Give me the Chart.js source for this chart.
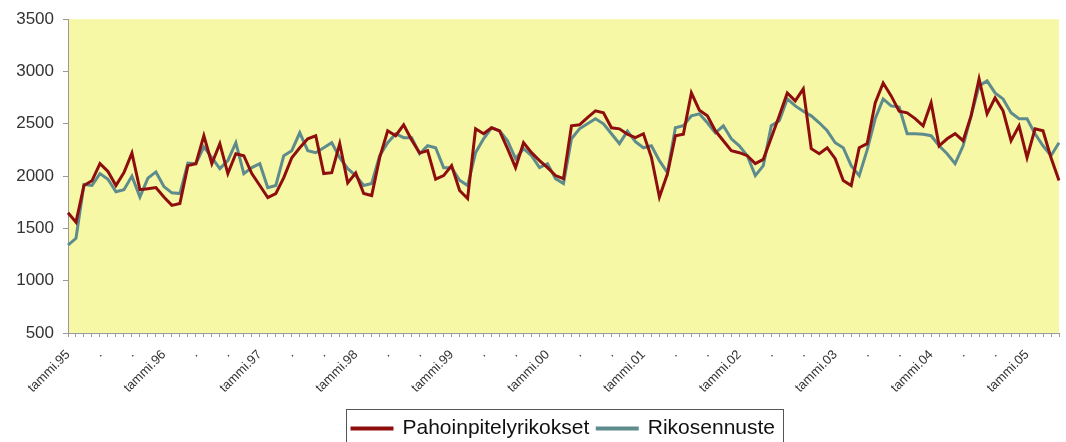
<!DOCTYPE html>
<html>
<head>
<meta charset="utf-8">
<script src="https://cdn.jsdelivr.net/npm/chart.js@4.4.1/dist/chart.umd.min.js"></script>
<style>
  html, body { margin: 0; padding: 0; background: #fff; }
  #wrap { width: 1066px; height: 442px; }
</style>
</head>
<body>
<div id="wrap"><canvas id="diagram1"></canvas></div>
<script>
(
    async function () {
        const monthNames = ["tammi", "helmi", "maalis", "huhti", "touko", "kesä",
                            "heinä", "elo", "syys", "loka", "marras", "joulu"];
        const years = ["95", "96", "97", "98", "99", "00", "01", "02", "03", "04", "05"];

        // tammi.95 ... touko.05
        const categories = [];
        for (const y of years) {
            for (const m of monthNames) categories.push(m + "." + y);
        }
        categories.length = 125;

        // only January is written out, May and September get a dot
        const tickLabels = categories.map((c, i) => {
            if (i % 12 === 0) return c;
            if (i % 4 === 0 && i < categories.length - 1) return ".";
            return "";
        });

        const assaults = [
            1650, 1560, 1910, 1955, 2119, 2045, 1910, 2033, 2220, 1870, 1880, 1890,
            1800, 1720, 1738, 2100, 2119, 2386, 2119, 2310, 2024, 2214, 2195, 2024,
            1910, 1795, 1833, 1986, 2176, 2271, 2357, 2386, 2024, 2033, 2310, 1935,
            2030, 1833, 1814, 2176, 2433, 2386, 2490, 2345, 2220, 2243, 1970, 2005,
            2100, 1862, 1786, 2452, 2405, 2462, 2433, 2262, 2081, 2319, 2224, 2148,
            2081, 2005, 1976, 2481, 2490, 2560, 2624, 2605, 2462, 2452, 2400, 2367,
            2405, 2180, 1800, 2020, 2386, 2400, 2795, 2630, 2576, 2433, 2338, 2243,
            2224, 2195, 2119, 2160, 2367, 2576, 2795, 2719, 2833, 2262, 2214, 2271,
            2167, 1957, 1910, 2271, 2310, 2700, 2890, 2767, 2620, 2605, 2550, 2481,
            2700, 2290, 2357, 2405, 2338, 2576, 2929, 2595, 2748, 2624, 2338, 2481,
            2176, 2452, 2433, 2176, 1957
        ];

        const forecast = [
            1340, 1405, 1920, 1910, 2024, 1970, 1850, 1870, 2000, 1800, 1980, 2040,
            1900, 1840, 1833, 2125, 2119, 2280, 2176, 2071, 2148, 2319, 2024, 2081,
            2119, 1890, 1910, 2195, 2243, 2414, 2243, 2224, 2271, 2319, 2176, 2071,
            2005, 1910, 1929, 2195, 2319, 2405, 2367, 2367, 2214, 2290, 2271, 2081,
            2081, 1960, 1910, 2224, 2357, 2462, 2433, 2338, 2167, 2262, 2195, 2081,
            2119, 1976, 1929, 2357, 2452, 2500, 2548, 2500, 2405, 2310, 2430, 2330,
            2271, 2290, 2148, 2033, 2462, 2481, 2576, 2595, 2510, 2414, 2481, 2357,
            2290, 2195, 2005, 2100, 2481, 2529, 2738, 2671, 2620, 2576, 2510, 2433,
            2319, 2271, 2100, 2005, 2250, 2548, 2738, 2671, 2660, 2405, 2405, 2400,
            2386, 2290, 2214, 2119, 2290, 2576, 2862, 2910, 2795, 2738, 2605, 2548,
            2548, 2405, 2290, 2195, 2319
        ];

        const plotBackground = {
            id: 'plotBackground',
            beforeDraw(chart) {
                const {ctx, chartArea: a} = chart;
                ctx.save();
                ctx.fillStyle = '#F7F8A6';
                ctx.fillRect(a.left, a.top, a.right - a.left, a.bottom - a.top);
                ctx.restore();
            }
        };

        // push the legend down a bit and draw the frame round it, cut by the page bottom
        const legendFrame = {
            id: 'legendFrame',
            afterLayout(chart) {
                chart.legend.top += 7;
                chart.legend.bottom += 7;
            },
            afterDraw(chart) {
                const lg = chart.legend;
                if (!lg || !lg.legendHitBoxes.length) return;
                const boxes = lg.legendHitBoxes;
                const left = Math.min(...boxes.map(b => b.left)) - 6;
                const right = Math.max(...boxes.map(b => b.left + b.width)) + 8;
                const ctx = chart.ctx;
                ctx.save();
                ctx.strokeStyle = '#555';
                ctx.lineWidth = 1;
                ctx.strokeRect(Math.round(left) + 0.5, Math.round(lg.top) - 0.5, right - left, 60);
                ctx.restore();
            }
        };

        new Chart(
            document.getElementById("diagram1"),
            {
                type: 'line',
                data: {
                    labels: categories,
                    datasets: [
                        {
                            label: 'Pahoinpitelyrikokset',
                            data: assaults,
                            borderColor: '#8E0E0E',
                            backgroundColor: '#8E0E0E',
                            borderWidth: 3,
                            pointRadius: 0,
                            tension: 0
                        },
                        {
                            label: 'Rikosennuste',
                            data: forecast,
                            borderColor: '#5E8C8C',
                            backgroundColor: '#5E8C8C',
                            borderWidth: 3,
                            pointRadius: 0,
                            tension: 0
                        }
                    ]
                },
                options: {
                    responsive: true,
                    maintainAspectRatio: false,
                    animation: false,
                    layout: {
                        padding: { top: 18, right: 7, left: 0, bottom: 0 }
                    },
                    scales: {
                        x: {
                            afterFit: scale => {
                                scale.height = 70;
                                scale.paddingLeft = 0;
                                scale.paddingRight = 0;
                            },
                            grid: {
                                drawOnChartArea: false,
                                color: '#999',
                                tickLength: 4
                            },
                            border: { color: '#999' },
                            ticks: {
                                autoSkip: false,
                                maxRotation: 45,
                                minRotation: 45,
                                padding: 10,
                                color: '#333',
                                font: { family: 'Liberation Sans', size: 13 },
                                callback: (value, index) => tickLabels[index]
                            }
                        },
                        y: {
                            min: 500,
                            max: 3500,
                            afterFit: scale => { scale.width = 68; },
                            grid: {
                                drawOnChartArea: false,
                                color: '#999',
                                tickLength: 5
                            },
                            border: { color: '#999' },
                            ticks: {
                                stepSize: 500,
                                padding: 9,
                                color: '#333',
                                font: { family: 'Liberation Sans', size: 17 },
                                callback: value => String(value)
                            }
                        }
                    },
                    plugins: {
                        tooltip: { enabled: false },
                        legend: {
                            position: 'bottom',
                            fullSize: false,
                            labels: {
                                boxWidth: 40,
                                boxHeight: 1,
                                padding: 8,
                                color: '#111',
                                font: { family: 'Liberation Sans', size: 21, lineHeight: 1 }
                            }
                        }
                    }
                },
                plugins: [plotBackground, legendFrame]
            }
        );
    })();
</script>
</body>
</html>
